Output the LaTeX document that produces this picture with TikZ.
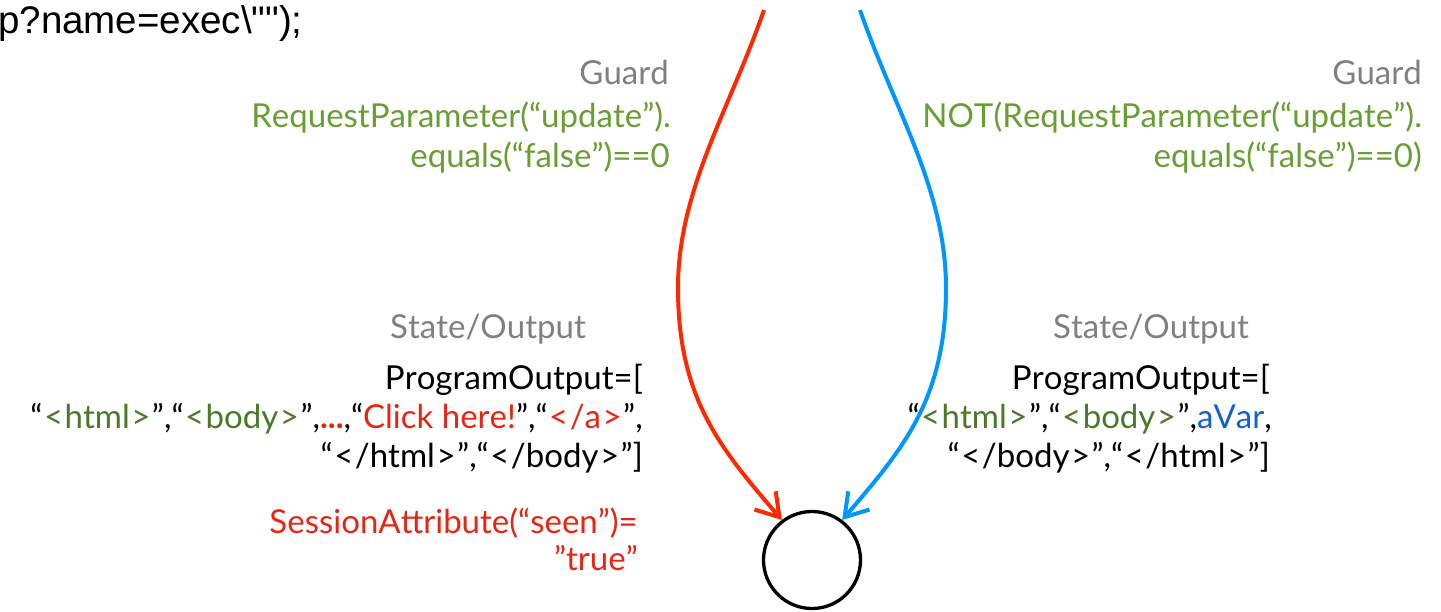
\documentclass[tikz,border=0pt]{standalone}
\usepackage{fontspec}
\setmainfont{Lato}[Kerning=Off]
\newfontfamily\codefont{Liberation Sans}
\usetikzlibrary{arrows.meta}

\definecolor{labelgray}{RGB}{128,128,128}
\definecolor{guardgreen}{RGB}{104,158,52}
\definecolor{taggreen}{RGB}{72,122,40}
\definecolor{textred}{RGB}{230,38,18}
\definecolor{arcred}{RGB}{255,40,0}
\definecolor{arcblue}{RGB}{0,150,255}
\definecolor{varblue}{RGB}{20,95,210}

\newcommand{\tg}[1]{\textcolor{taggreen}{#1}}
\newcommand{\tr}[1]{\textcolor{textred}{#1}}
% slightly roomier angle brackets for the HTML tags
\newcommand{\lab}{\kern1.5pt<\kern1.5pt}
\newcommand{\rab}{\kern1.5pt>\kern1.5pt}

\begin{document}
\begin{tikzpicture}[x=1pt,y=-1pt,
  txt/.style={anchor=base east,inner sep=0pt,font=\fontsize{33}{38}\selectfont},
  heading/.style={txt,text=labelgray},
  guardtxt/.style={txt,text=guardgreen},
  outtxt/.style={txt,text=black},
  statenode/.style={circle,draw,line width=3.3pt,minimum size=97pt,inner sep=0pt},
  transition/.style={line width=4pt,-{Straight Barb[length=22pt,width=28pt]}}]
\useasboundingbox (0,0) rectangle (1441,611);

% code fragment
\node[anchor=base west,inner sep=0pt,font=\codefont\fontsize{38.5}{44}\selectfont] (code) at (-2,33) {p?name=exec\textbackslash"");};

% target state
\node[statenode] (st) at (812,560) {};

% incoming transitions
\coordinate (rs) at (764,10);
\coordinate (bs) at (860,10);
\draw[transition,arcred] (rs) .. controls (729,111) and (678,190) .. (678,288)
  .. controls (678,400) and (722,450) .. (st.127);
\draw[transition,arcblue] (bs) .. controls (895,111) and (946,190) .. (946,288)
  .. controls (946,400) and (902,450) .. (st.53);

% left transition: guard
\node[heading] (lg0) at (669,84) {Guard};
\node[guardtxt] (lg1) at (671,127) {RequestParameter(“update”).};
\node[guardtxt] (lg2) at (670,167) {equals(“false”)==0};

% left transition: state/output
\node[heading] (ls0) at (586,338) {State/Output};
\node[outtxt] (lo1) at (643,389) {ProgramOutput=[};
\node[outtxt] (lo2) at (643,428) {“\tg{\lab html\rab}”,“\tg{\lab body\rab}”,\textbf{\tr{...}},“\tr{Click here!}”,“\tr{\lab/a\rab}”,};
\node[outtxt] (lo3) at (643,467) {“\lab/html\rab”,“\lab/body\rab”]};
\node[txt,text=textred] (la1) at (638,533) {SessionAttribute(“seen”)=};
\node[txt,text=textred] (la2) at (638,570) {”true”};

% right transition: guard
\node[heading] (rg0) at (1422,84) {Guard};
\node[guardtxt] (rg1) at (1422,127) {NOT(RequestParameter(“update”).};
\node[guardtxt] (rg2) at (1422,167) {equals(“false”)==0)};

% right transition: state/output
\node[heading] (rs0) at (1249,338) {State/Output};
\node[outtxt] (ro1) at (1270,389) {ProgramOutput=[};
\node[outtxt] (ro2) at (1272,428) {“\tg{\lab html\rab}”,“\tg{\lab body\rab}”,\textcolor{varblue}{aVar},};
\node[outtxt] (ro3) at (1270,467) {“\lab/body\rab”,“\lab/html\rab”]};
\end{tikzpicture}
\end{document}
